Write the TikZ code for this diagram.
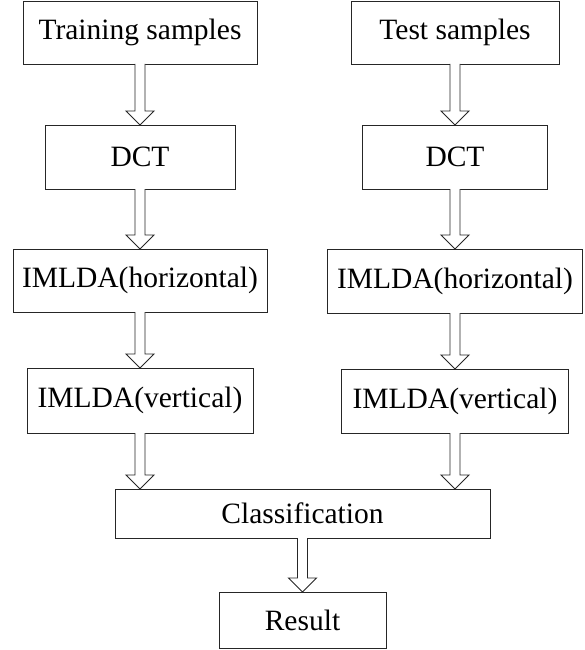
\documentclass[tikz,border=0pt]{standalone}
\usepackage{fontspec}
\setmainfont{Liberation Serif}
\usetikzlibrary{calc}
\tikzset{
  box/.style={draw=black!85, line width=0.9pt, rectangle, inner sep=0pt, outer sep=0pt,
    font=\fontsize{29.5}{35}\selectfont, text=black},
  barrow/.style={draw=black!85, line width=0.9pt, line join=miter, fill=white}
}
\newcommand\blockarr[2]{%
  \draw[barrow] ($(#1.south)+(-5,0)$) -- ($(#1.south |- #2.north)+(-5,-14)$)
    -- ($(#1.south |- #2.north)+(-14,-14)$) -- (#1.south |- #2.north)
    -- ($(#1.south |- #2.north)+(14,-14)$) -- ($(#1.south |- #2.north)+(5,-14)$)
    -- ($(#1.south)+(5,0)$);}
\begin{document}
\begin{tikzpicture}[x=1pt,y=-1pt]
\useasboundingbox (0,0) rectangle (584,650);
\node[box, minimum width=234pt, minimum height=63pt] (tr) at (140,32.5) {Training samples};
\node[box, minimum width=190pt, minimum height=64pt] (dl) at (140,157) {DCT};
\node[box, minimum width=254pt, minimum height=63pt] (hl) at (140,280.5) {IMLDA(horizontal)};
\node[box, minimum width=226pt, minimum height=65pt] (vl) at (140,400.5) {IMLDA(vertical)};
\node[box, minimum width=208pt, minimum height=63pt] (te) at (455,32.5) {Test samples};
\node[box, minimum width=185pt, minimum height=64pt] (dr) at (455,157) {DCT};
\node[box, minimum width=255pt, minimum height=64pt] (hr) at (455,281) {IMLDA(horizontal)};
\node[box, minimum width=227pt, minimum height=64pt] (vr) at (455,401) {IMLDA(vertical)};
\node[box, minimum width=375pt, minimum height=49pt] (cl) at (302.5,513.5) {Classification};
\node[box, minimum width=167pt, minimum height=56pt] (re) at (302.5,620) {Result};
\blockarr{tr}{dl}
\blockarr{dl}{hl}
\blockarr{hl}{vl}
\blockarr{te}{dr}
\blockarr{dr}{hr}
\blockarr{hr}{vr}
\blockarr{vl}{cl}
\blockarr{vr}{cl}
\blockarr{cl}{re}
\end{tikzpicture}
\end{document}
